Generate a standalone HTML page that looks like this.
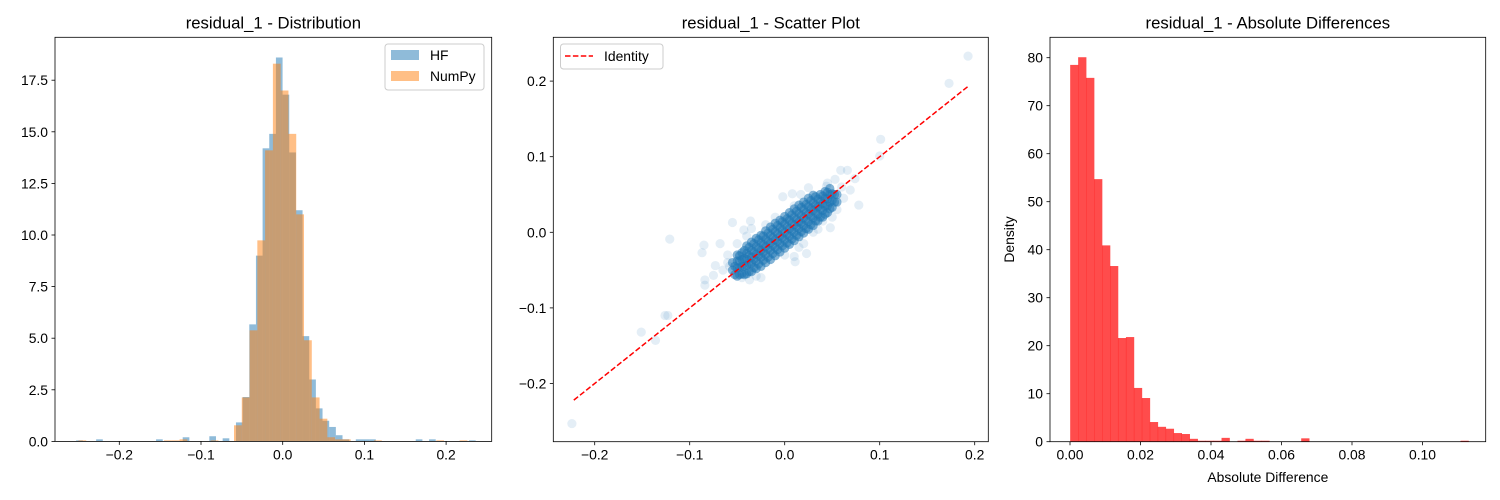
<!DOCTYPE html>
<html><head><meta charset="utf-8">
<style>
html,body{margin:0;padding:0;background:#fff;}
svg{display:block;font-family:"Liberation Sans","DejaVu Sans",sans-serif;}
</style></head>
<body>
<svg id="fig" width="1500" height="500" viewBox="0 0 1500 500" xmlns="http://www.w3.org/2000/svg">
<rect width="1500" height="500" fill="#fff"/>
<g id="p1"></g>
<g id="p2"></g>
<g id="p3"></g>
</svg>
<script>
// ---------- Panel 1 data ----------
const hfStart = -0.2528, hfWidth = 0.00815;
const hfHeights = [0.05,0,0,0.1,0,0,0,0,0,0,0,0,0.1,0,0,0,0.2,0,0,0,0.25,0,0.15,0,
  0.92,2.15,5.67,9.0,14.2,14.9,18.6,16.8,14.0,11.2,5.1,3.0,1.6,1.0,0.7,0.3,0.1,0,0.1,0.1,0.1,0,0,0,0,0,0,0.1,0,0.1,0,0,0,0,0,0.05];
const npStart = -0.2500, npWidth = 0.00952;
const npHeights = [0.05,0,0,0,0,0,0,0,0,0,0,0.05,0.05,0.1,0,0,0,0.05,0,0,
  0.78,2.13,5.38,9.74,14.1,18.3,17.0,14.9,11.0,4.9,2.13,1.1,0.2,0.1,0.1,0,0,0,0.05,0,0,0,0,0,0,0,0.05,0,0,0.05,0];
const p1XTicks = [-0.2,-0.1,0.0,0.1,0.2];
const p1XLabels = ["\u22120.2","\u22120.1","0.0","0.1","0.2"];
const p1YTicks = [0,2.5,5,7.5,10,12.5,15,17.5];
const p1YLabels = ["0.0","2.5","5.0","7.5","10.0","12.5","15.0","17.5"];
// ---------- Panel 2 data ----------
const coreX = [-0.055,-0.055,
 -0.05,-0.05,-0.05,-0.05,
 -0.045,-0.045,-0.045,-0.045,
 -0.04,-0.04,-0.04,-0.04,-0.04,
 -0.035,-0.035,-0.035,-0.035,-0.035,
 -0.03,-0.03,-0.03,-0.03,-0.03,
 -0.025,-0.025,-0.025,-0.025,-0.025,
 -0.02,-0.02,-0.02,-0.02,-0.02,
 -0.015,-0.015,-0.015,-0.015,-0.015,
 -0.01,-0.01,-0.01,-0.01,-0.01,
 -0.005,-0.005,-0.005,-0.005,-0.005,
 0,0,0,0,0,
 0.005,0.005,0.005,0.005,0.005,
 0.01,0.01,0.01,0.01,0.01,
 0.015,0.015,0.015,0.015,0.015,
 0.02,0.02,0.02,0.02,0.02,
 0.025,0.025,0.025,0.025,0.025,
 0.03,0.03,0.03,0.03,0.03,
 0.035,0.035,0.035,0.035,
 0.04,0.04,0.04,0.04,
 0.045,0.045,0.045,0.045,
 0.05,0.05,0.05,
 0.055,0.055];
const coreY = [-0.050,-0.040,
 -0.058,-0.047,-0.038,-0.030,
 -0.055,-0.045,-0.036,-0.027,
 -0.055,-0.044,-0.036,-0.028,-0.018,
 -0.052,-0.041,-0.033,-0.024,-0.013,
 -0.048,-0.038,-0.029,-0.019,-0.008,
 -0.045,-0.033,-0.024,-0.014,-0.004,
 -0.040,-0.029,-0.019,-0.009,0.002,
 -0.036,-0.024,-0.014,-0.004,0.007,
 -0.031,-0.020,-0.010,0.001,0.012,
 -0.026,-0.015,-0.005,0.006,0.016,
 -0.021,-0.010,0.000,0.011,0.021,
 -0.016,-0.005,0.005,0.016,0.026,
 -0.011,0.000,0.010,0.020,0.031,
 -0.006,0.005,0.014,0.025,0.036,
 -0.001,0.009,0.019,0.030,0.040,
 0.004,0.014,0.024,0.034,0.045,
 0.009,0.019,0.029,0.039,0.049,
 0.015,0.024,0.034,0.044,
 0.020,0.029,0.038,0.048,
 0.026,0.035,0.044,0.053,
 0.033,0.042,0.051,
 0.040,0.050];
const core2X = [-0.0525,-0.0525,
 -0.0475,-0.0475,-0.0475,-0.0475,
 -0.0425,-0.0425,-0.0425,-0.0425,
 -0.0375,-0.0375,-0.0375,-0.0375,
 -0.0325,-0.0325,-0.0325,-0.0325,
 -0.0275,-0.0275,-0.0275,-0.0275,
 -0.0225,-0.0225,-0.0225,-0.0225,
 -0.0175,-0.0175,-0.0175,-0.0175,
 -0.0125,-0.0125,-0.0125,-0.0125,
 -0.0075,-0.0075,-0.0075,-0.0075,
 -0.0025,-0.0025,-0.0025,-0.0025,
 0.0025,0.0025,0.0025,0.0025,
 0.0075,0.0075,0.0075,0.0075,
 0.0125,0.0125,0.0125,0.0125,
 0.0175,0.0175,0.0175,0.0175,
 0.0225,0.0225,0.0225,0.0225,
 0.0275,0.0275,0.0275,0.0275,
 0.0325,0.0325,0.0325,0.0325,
 0.0375,0.0375,0.0375,0.0375,
 0.0425,0.0425,0.0425,0.0425,
 0.0475,0.0475,0.0475,0.0475,
 0.0525,0.0525];
const core2Y = [-0.056,-0.045,
 -0.056,-0.047,-0.038,-0.031,
 -0.056,-0.045,-0.035,-0.024,
 -0.052,-0.041,-0.031,-0.020,
 -0.047,-0.036,-0.026,-0.015,
 -0.042,-0.031,-0.021,-0.010,
 -0.037,-0.026,-0.016,-0.005,
 -0.033,-0.022,-0.012,-0.001,
 -0.028,-0.017,-0.007,0.004,
 -0.023,-0.012,-0.002,0.009,
 -0.018,-0.007,0.003,0.014,
 -0.014,-0.003,0.007,0.018,
 -0.009,0.002,0.012,0.023,
 -0.004,0.007,0.017,0.028,
 0.001,0.012,0.022,0.033,
 0.005,0.016,0.026,0.037,
 0.010,0.021,0.031,0.042,
 0.015,0.026,0.036,0.047,
 0.020,0.031,0.041,0.050,
 0.024,0.035,0.045,0.054,
 0.031,0.040,0.050,0.058,
 0.040,0.050];
const outX = [-0.224,0.193,0.173,0.101,0.100,0.078,0.059,0.066,0.074,0.069,0.053,0.044,0.025,-0.002,0.008,0.017,-0.055,-0.036,-0.043,-0.121,-0.085,-0.087,-0.068,-0.073,-0.075,-0.084,-0.084,-0.060,-0.037,0.011,0.010,0.023,0.048,0.035,-0.126,-0.123,-0.151,-0.136,
 -0.060,-0.050,-0.045,-0.030,-0.020,-0.010,0.000,0.010,0.020,0.030,0.040,0.055,0.060,-0.065,-0.035,0.045,0.015,-0.025,0.050,0.062,-0.058,-0.040];
const outY = [-0.253,0.233,0.197,0.123,0.101,0.036,0.082,0.082,0.071,0.056,0.070,0.061,0.059,0.047,0.051,0.050,0.013,0.015,0.003,-0.009,-0.017,-0.027,-0.015,-0.044,-0.057,-0.063,-0.070,-0.040,-0.063,-0.039,-0.032,-0.028,0.006,0.004,-0.110,-0.110,-0.132,-0.143,
 -0.030,-0.015,-0.060,-0.058,0.010,0.020,-0.030,0.035,-0.015,0.000,0.015,0.030,0.060,-0.050,0.005,0.065,-0.020,-0.060,0.020,0.045,-0.045,-0.005];
const identityRange = [-0.222, 0.193];
const p2XTicks = [-0.2,-0.1,0.0,0.1,0.2];
const p2XLabels = ["\u22120.2","\u22120.1","0.0","0.1","0.2"];
const p2YTicks = [-0.2,-0.1,0.0,0.1,0.2];
const p2YLabels = ["\u22120.2","\u22120.1","0.0","0.1","0.2"];
// ---------- Panel 3 data ----------
const adStart = 0.00005, adWidth = 0.00226;
const adHeights = [78.5,80.1,75.8,54.7,40.9,36.6,21.6,21.8,11.2,9.1,4.1,3.1,2.7,1.8,1.6,0.6,0.2,0.2,0.2,0.8,0,0.2,0.6,0.2,0.2,0,0,0,0,0.7,0,0,0,0,0,0,0,0,0,0,0,0,0,0,0,0,0,0,0,0.2];
const p3XTicks = [0,0.02,0.04,0.06,0.08,0.10];
const p3XLabels = ["0.00","0.02","0.04","0.06","0.08","0.10"];
const p3YTicks = [0,10,20,30,40,50,60,70,80];
const p3YLabels = ["0","10","20","30","40","50","60","70","80"];

const NS = "http://www.w3.org/2000/svg";
function mk(parent, tag, attrs, text){
  const e = document.createElementNS(NS, tag);
  for (const k in attrs) e.setAttribute(k, attrs[k]);
  if (text !== undefined) e.textContent = text;
  parent.appendChild(e);
  return e;
}
function axesFrame(g, box, xs, ys, xT, xL, yT, yL, title){
  for (let i=0;i<xT.length;i++){
    const x = xs(xT[i]);
    const t = mk(g,'line',{x1:x,x2:x,y1:box.b,y2:box.b+3.5,stroke:'#000','stroke-width':0.8});
    
    
    const l = mk(g,'text',{x:x,y:box.b+18,'font-size':13.9,'text-anchor':'middle',fill:'#000'},xL[i]);
    
    
  }
  for (let i=0;i<yT.length;i++){
    const y = ys(yT[i]);
    const t = mk(g,'line',{x1:box.l-3.5,x2:box.l,y1:y,y2:y,stroke:'#000','stroke-width':0.8});
    
    
    const l = mk(g,'text',{x:box.l-7,y:y+5,'font-size':13.9,'text-anchor':'end',fill:'#000'},yL[i]);
    
    
  }
  const f = mk(g,'rect',{x:box.l,y:box.t,width:box.r-box.l,height:box.b-box.t,fill:'none',stroke:'#000','stroke-width':0.8});
  
  
  const tt = mk(g,'text',{x:(box.l+box.r)/2,y:box.t-9,'font-size':16.7,'text-anchor':'middle',fill:'#000'},title);
  
  
}

// ---------- Panel 1 ----------
(function(){
  const g = document.getElementById('p1');
  const box = {l:55,r:491.7,t:37.3,b:441.4};
  const xs = v => 282.7 + v*817;
  const ys = v => 441.4 - v*20.64;
  const bars = mk(g,'g',{});
  
  
  hfHeights.forEach((h,i)=>{
    if(h<=0) return;
    const x0 = xs(hfStart+i*hfWidth), x1 = xs(hfStart+(i+1)*hfWidth);
    const r = mk(bars,'rect',{x:x0,y:ys(h),width:x1-x0,height:ys(0)-ys(h),fill:'#1f77b4','fill-opacity':0.5});
    
    
  });
  npHeights.forEach((h,i)=>{
    if(h<=0) return;
    const x0 = xs(npStart+i*npWidth), x1 = xs(npStart+(i+1)*npWidth);
    const r = mk(bars,'rect',{x:x0,y:ys(h),width:x1-x0,height:ys(0)-ys(h),fill:'#ff7f0e','fill-opacity':0.5});
    
    
  });
  axesFrame(g,box,xs,ys,p1XTicks,p1XLabels,p1YTicks,p1YLabels,'residual_1 - Distribution');
  const lg = mk(g,'g',{});
  
  
  mk(lg,'rect',{x:385,y:44,width:99,height:46,rx:3,fill:'#fff','fill-opacity':0.8,stroke:'#ccc','stroke-width':1});
  const e1 = mk(lg,'rect',{x:391,y:50,width:28,height:10,fill:'#1f77b4','fill-opacity':0.5});
  
  
  const t1 = mk(lg,'text',{x:430,y:60,'font-size':13.9,fill:'#000'},'HF');
  
  
  const e2 = mk(lg,'rect',{x:391,y:71,width:28,height:10,fill:'#ff7f0e','fill-opacity':0.5});
  
  
  const t2 = mk(lg,'text',{x:430,y:81,'font-size':13.9,fill:'#000'},'NumPy');
  
  
})();

// ---------- Panel 2 ----------
(function(){
  const g = document.getElementById('p2');
  const box = {l:553.3,r:988.3,t:37.3,b:441.7};
  const xs = v => 784.7 + v*950;
  const ys = v => 232.3 - v*756;
  const pts = mk(g,'g',{});
  
  
  outX.forEach((x,i)=>{
    const c = mk(pts,'circle',{cx:xs(x),cy:ys(outY[i]),r:4.6,fill:'#1f77b4','fill-opacity':0.12});
    
    
  });
  coreX.forEach((x,i)=>{
    const c = mk(pts,'circle',{cx:xs(x),cy:ys(coreY[i]),r:4.6,fill:'#1f77b4','fill-opacity':0.55});
    
    
  });
  core2X.forEach((x,i)=>{
    const c = mk(pts,'circle',{cx:xs(x),cy:ys(core2Y[i]),r:4.6,fill:'#1f77b4','fill-opacity':0.55});
    
    
  });
  const ln = mk(g,'line',{x1:xs(identityRange[0]),y1:ys(identityRange[0]),x2:xs(identityRange[1]),y2:ys(identityRange[1]),stroke:'#ff0000','stroke-width':1.5,'stroke-dasharray':'5.5,2.4'});
  
  
  axesFrame(g,box,xs,ys,p2XTicks,p2XLabels,p2YTicks,p2YLabels,'residual_1 - Scatter Plot');
  const lg = mk(g,'g',{});
  
  
  mk(lg,'rect',{x:560.5,y:44,width:102.5,height:25,rx:3,fill:'#fff','fill-opacity':0.8,stroke:'#ccc','stroke-width':1});
  const s = mk(lg,'line',{x1:565,x2:593,y1:56,y2:56,stroke:'#ff0000','stroke-width':1.5,'stroke-dasharray':'5.5,2.4'});
  
  
  const t = mk(lg,'text',{x:604,y:61,'font-size':13.9,fill:'#000'},'Identity');
  
  
})();

// ---------- Panel 3 ----------
(function(){
  const g = document.getElementById('p3');
  const box = {l:1050,r:1485.7,t:37.3,b:441.7};
  const xs = v => 1070 + v*3525;
  const ys = v => 441.7 - v*4.8;
  const bars = mk(g,'g',{});
  
  
  adHeights.forEach((h,i)=>{
    if(h<=0) return;
    const x0 = xs(adStart+i*adWidth), x1 = xs(adStart+(i+1)*adWidth);
    const r = mk(bars,'rect',{x:x0,y:ys(h),width:x1-x0+0.3,height:ys(0)-ys(h),fill:'#ff0000','fill-opacity':0.7});
    
    
  });
  axesFrame(g,box,xs,ys,p3XTicks,p3XLabels,p3YTicks,p3YLabels,'residual_1 - Absolute Differences');
  const xl = mk(g,'text',{x:(box.l+box.r)/2,y:482,'font-size':13.9,'text-anchor':'middle',fill:'#000'},'Absolute Difference');
  
  
  const yl = mk(g,'text',{x:0,y:0,'font-size':13.9,'text-anchor':'middle',fill:'#000',transform:'translate(1014,239.5) rotate(-90)'},'Density');
  
  
})();
</script>
</body></html>
